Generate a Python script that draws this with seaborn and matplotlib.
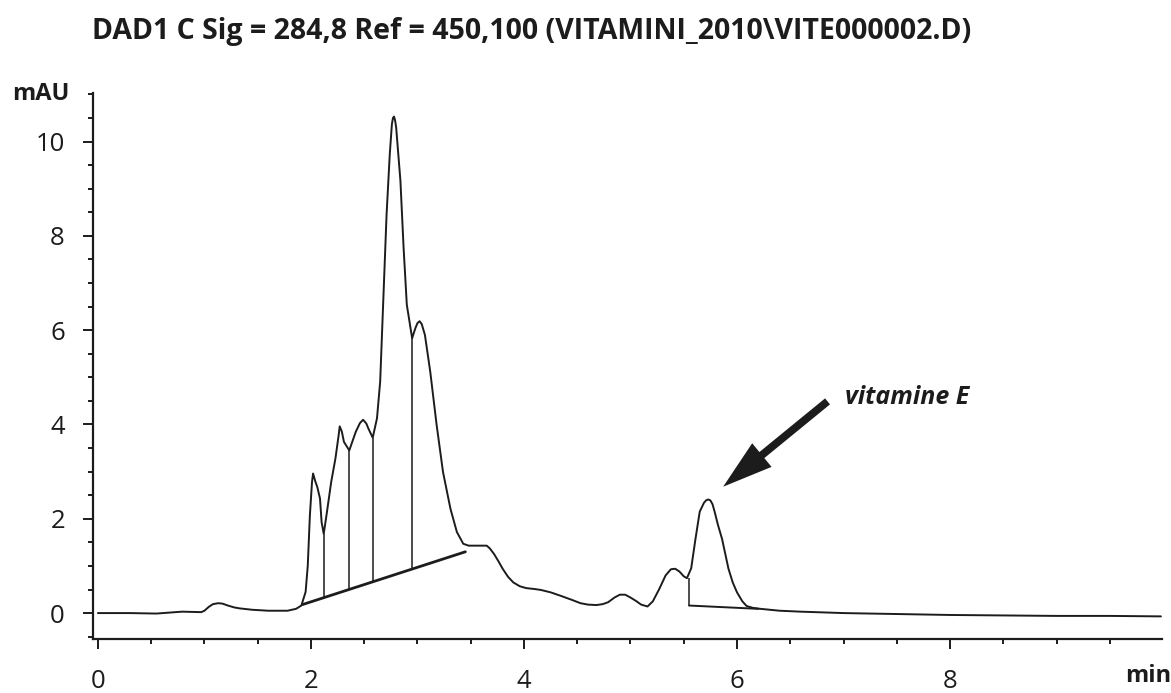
import numpy as np
import seaborn as sns
import matplotlib.pyplot as plt
from matplotlib.ticker import MultipleLocator


# chromatogram trace (time in min, signal in mAU)
trace_t = [0.00, 0.30, 0.55, 0.79, 0.97, 1.00, 1.04, 1.08, 1.13, 1.17, 1.22, 1.28,
           1.33, 1.45, 1.60, 1.78, 1.86, 1.91, 1.95, 1.97, 1.99, 2.01, 2.02, 2.04,
           2.06, 2.085, 2.10, 2.12, 2.15, 2.19, 2.23, 2.26, 2.27, 2.29, 2.31, 2.36,
           2.42, 2.46, 2.49, 2.52, 2.54, 2.58, 2.62, 2.65, 2.68, 2.71, 2.74, 2.76,
           2.77, 2.78, 2.79, 2.80, 2.84, 2.87, 2.90, 2.95, 2.98, 3.00, 3.02, 3.04,
           3.07, 3.12, 3.18, 3.24, 3.31, 3.37, 3.43, 3.48, 3.65, 3.68, 3.72, 3.76,
           3.80, 3.85, 3.90, 3.96, 4.02, 4.10, 4.16, 4.25, 4.34, 4.45, 4.53, 4.60,
           4.68, 4.74, 4.79, 4.85, 4.90, 4.95, 5.00, 5.05, 5.10, 5.16, 5.21, 5.27,
           5.33, 5.38, 5.42, 5.46, 5.50, 5.53, 5.57, 5.61, 5.65, 5.69, 5.71, 5.73,
           5.75, 5.77, 5.79, 5.82, 5.86, 5.92, 5.96, 6.00, 6.05, 6.09, 6.15, 6.22,
           6.40, 6.60, 7.00, 7.50, 8.00, 8.50, 9.00, 9.50, 9.98]
trace_mau = [0.00, 0.00, -0.01, 0.03, 0.02, 0.05, 0.13, 0.19, 0.21, 0.20, 0.16, 0.12,
             0.10, 0.07, 0.05, 0.05, 0.09, 0.16, 0.45, 1.00, 2.07, 2.78, 2.96, 2.80,
             2.67, 2.43, 1.93, 1.68, 2.14, 2.78, 3.28, 3.77, 3.96, 3.85, 3.63, 3.45,
             3.84, 4.03, 4.10, 4.02, 3.91, 3.72, 4.13, 4.91, 6.68, 8.45, 9.73, 10.37,
             10.50, 10.53, 10.45, 10.30, 9.17, 7.74, 6.54, 5.83, 6.04, 6.15, 6.19, 6.13,
             5.90, 5.12, 3.99, 2.99, 2.21, 1.72, 1.47, 1.43, 1.43, 1.37, 1.25, 1.10,
             0.94, 0.77, 0.65, 0.57, 0.53, 0.51, 0.49, 0.44, 0.37, 0.28, 0.21, 0.18,
             0.17, 0.19, 0.23, 0.33, 0.39, 0.39, 0.33, 0.26, 0.18, 0.14, 0.25, 0.51,
             0.80, 0.93, 0.94, 0.88, 0.78, 0.74, 0.95, 1.57, 2.15, 2.34, 2.39, 2.41,
             2.39, 2.31, 2.15, 1.88, 1.57, 0.94, 0.65, 0.44, 0.25, 0.15, 0.11, 0.09,
             0.05, 0.03, 0.00, -0.02, -0.04, -0.05, -0.06, -0.06, -0.07]

# integration baselines
base1_t = [1.92, 3.45]
base1_mau = [0.18, 1.30]
base2_t = [5.55, 6.20]
base2_mau = [0.16, 0.09]

# drop lines between peaks
drop_t = [2.12, 2.36, 2.58, 2.95, 5.55]
drop_top = [1.68, 3.45, 3.72, 5.83, 0.74]
drop_bottom = [0.33, 0.50, 0.66, 0.93, 0.16]

title = "DAD1 C Sig = 284,8 Ref = 450,100 (VITAMINI_2010\\VITE000002.D)"
peak_label = "vitamine E"
arrow_tail = (6.85, 4.49)
arrow_tip = (5.87, 2.68)

INK = "#1c1c1c"


def draw():
    sns.set_style("ticks")
    plt.rcParams["font.family"] = ["Open Sans", "DejaVu Sans"]

    fig = plt.figure(figsize=(11.71, 6.93), dpi=100)
    ax = fig.add_axes([0.0798, 0.0779, 0.9125, 0.7879])

    sns.lineplot(x=trace_t, y=trace_mau, ax=ax, color=INK, lw=1.4)
    sns.lineplot(x=base1_t, y=base1_mau, ax=ax, color=INK, lw=2.0)
    sns.lineplot(x=base2_t, y=base2_mau, ax=ax, color=INK, lw=1.4)
    ax.vlines(drop_t, drop_bottom, drop_top, color=INK, lw=1.1)

    ax.annotate(
        "", xy=arrow_tip, xytext=arrow_tail,
        arrowprops=dict(
            arrowstyle="simple,head_length=1.8,head_width=1.1,tail_width=0.28",
            mutation_scale=20, fc=INK, ec="none", shrinkA=0, shrinkB=0,
        ),
    )
    ax.text(7.01, 4.57, peak_label, fontsize=18, fontweight="bold",
            fontstyle="italic", ha="left", va="center", color=INK)

    ax.set_xlim(-0.042, 9.99)
    ax.set_ylim(-0.55, 11.03)
    ax.xaxis.set_major_locator(MultipleLocator(2))
    ax.xaxis.set_minor_locator(MultipleLocator(0.5))
    ax.yaxis.set_major_locator(MultipleLocator(2))
    ax.yaxis.set_minor_locator(MultipleLocator(0.5))
    ax.set_xlabel("")
    ax.set_ylabel("")

    ax.tick_params(axis="both", which="major", length=7.5, width=1.4,
                   labelsize=18.5, colors=INK)
    ax.tick_params(axis="both", which="minor", length=3.6, width=1.4, colors=INK)
    ax.tick_params(axis="y", which="major", pad=13)
    ax.tick_params(axis="x", which="major", pad=14)

    sns.despine(ax=ax)
    for side in ["left", "bottom"]:
        ax.spines[side].set_linewidth(1.6)
        ax.spines[side].set_color(INK)

    fig.text(92 / 1171, 1 - 31 / 693, title, fontsize=20.5, fontweight="bold",
             ha="left", va="center", color=INK)
    fig.text(12 / 1171, 1 - 94 / 693, "mAU", fontsize=17, fontweight="bold",
             ha="left", va="center", color=INK)
    fig.text(1125 / 1171, 1 - 676 / 693, "min", fontsize=17, fontweight="bold",
             ha="left", va="center", color=INK)

    fig.savefig("out.png", dpi=100)


if __name__ == "__main__":
    draw()
